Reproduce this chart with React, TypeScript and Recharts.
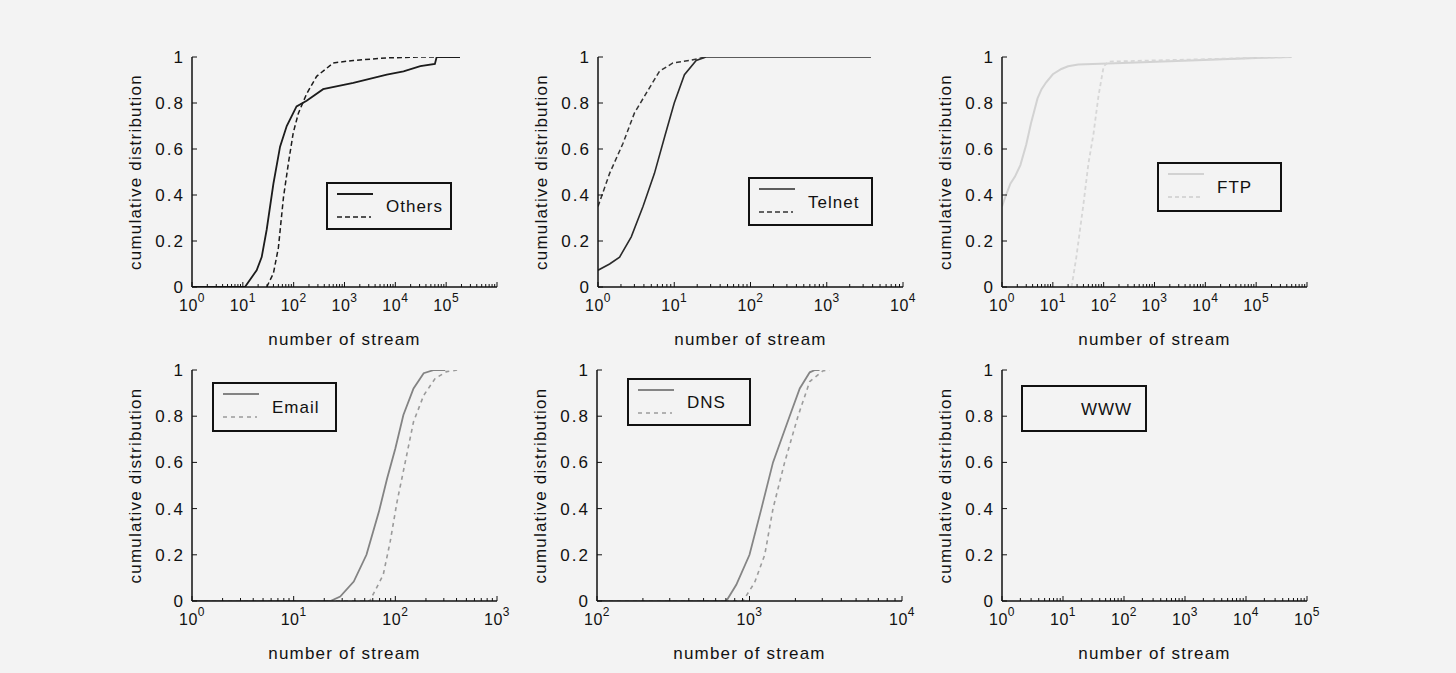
import React from 'react';
import { LineChart, Line, XAxis, YAxis, Legend } from 'recharts';

const BG = '#f3f3f3';
const FONT = '"Liberation Sans", Arial, Helvetica, sans-serif';

// ---------- data ----------
const yTicks = [0, 0.2, 0.4, 0.6, 0.8, 1];

const othersSolidX = [1, 8, 11, 18.7, 23.5, 29.5, 40, 54, 73, 114, 180, 380, 1490, 6800, 14500, 31000, 60000, 65000, 187000];
const othersSolidY = [0, 0, 0, 0.073, 0.13, 0.25, 0.45, 0.61, 0.7, 0.785, 0.81, 0.86, 0.887, 0.923, 0.938, 0.96, 0.97, 1.0, 1.0];
const othersDashX = [29.5, 40, 50, 63, 79, 98, 124, 180, 283, 600, 1490, 6800, 31000, 187000];
const othersDashY = [0, 0.06, 0.17, 0.39, 0.54, 0.67, 0.756, 0.84, 0.916, 0.974, 0.985, 0.996, 1.0, 1.0];

const telnetSolidX = [1, 1.42, 1.92, 2.73, 3.89, 5.5, 7.5, 10, 13.6, 19.4, 26, 3800];
const telnetSolidY = [0.073, 0.1, 0.13, 0.218, 0.35, 0.494, 0.654, 0.8, 0.923, 0.985, 1.0, 1.0];
const telnetDashX = [1, 1.42, 2.13, 3.0, 4.3, 6.4, 9.6, 15.8, 26];
const telnetDashY = [0.35, 0.494, 0.625, 0.756, 0.843, 0.938, 0.974, 0.985, 1.0];

const ftpSolidX = [1, 1.2, 1.47, 1.8, 2.3, 3.0, 3.7, 5.0, 6.0, 7.4, 10, 14.7, 20, 31.6, 233, 5000, 100000, 500000];
const ftpSolidY = [0.35, 0.4, 0.45, 0.48, 0.53, 0.62, 0.71, 0.82, 0.86, 0.89, 0.925, 0.948, 0.96, 0.967, 0.974, 0.985, 0.996, 1.0];
const ftpDashX = [23.4, 29, 40, 50, 63, 79, 100, 126, 1000, 500000];
const ftpDashY = [0, 0.13, 0.36, 0.535, 0.665, 0.83, 0.96, 0.98, 0.985, 1.0];

const emailSolidX = [1, 23, 28.7, 39, 52, 69, 83, 100, 120, 151, 190, 240, 310];
const emailSolidY = [0, 0, 0.019, 0.084, 0.2, 0.387, 0.53, 0.66, 0.805, 0.92, 0.986, 1, 1];
const emailDashX = [1, 56, 76, 89, 104, 125, 151, 190, 247, 320, 405];
const emailDashY = [0, 0, 0.113, 0.257, 0.43, 0.6, 0.776, 0.89, 0.964, 0.993, 1];

const dnsSolidX = [100, 705, 819, 1000, 1197, 1426, 1833, 2136, 2483, 2690, 2880];
const dnsSolidY = [0, 0, 0.07, 0.2, 0.4, 0.6, 0.8, 0.92, 0.99, 1, 1];
const dnsDashX = [100, 905, 1081, 1259, 1426, 1700, 2080, 2483, 3020, 3350];
const dnsDashY = [0, 0, 0.08, 0.2, 0.4, 0.6, 0.8, 0.95, 0.996, 1];

// WWW: no visible curves in the picture
const wwwSolidX: number[] = [];
const wwwSolidY: number[] = [];
const wwwDashX: number[] = [];
const wwwDashY: number[] = [];

// ---------- helpers ----------
type Series = { name: string; xs: number[]; ys: number[]; color: string; dash?: string; width: number };
type Panel = {
  key: string;
  label: string;
  plotLeft: number;
  plotTop: number;
  plotH: number;
  domain: [number, number];
  labeled: number[];
  series: Series[];
  legend: { left: number; top: number; w: number; h: number };
};

const zip = (xs: number[], ys: number[]) => xs.map((x, i) => ({ x, y: ys[i] }));

const logTicks = (lo: number, hi: number) => {
  const out: number[] = [];
  const e0 = Math.round(Math.log10(lo));
  const e1 = Math.round(Math.log10(hi));
  for (let e = e0; e < e1; e++) {
    for (let d = 1; d < 10; d++) out.push(d * Math.pow(10, e));
  }
  out.push(hi);
  return out;
};

const panels: Panel[] = [
  {
    key: 'others', label: 'Others', plotLeft: 192, plotTop: 57, plotH: 230, domain: [1, 1e6], labeled: [0, 1, 2, 3, 4, 5],
    series: [
      { name: 'Others solid', xs: othersSolidX, ys: othersSolidY, color: '#1c1c1c', width: 1.8 },
      { name: 'Others dashed', xs: othersDashX, ys: othersDashY, color: '#1c1c1c', dash: '5 3', width: 1.5 },
    ],
    legend: { left: 134, top: 125, w: 126, h: 48 },
  },
  {
    key: 'telnet', label: 'Telnet', plotLeft: 598, plotTop: 57, plotH: 230, domain: [1, 1e4], labeled: [0, 1, 2, 3, 4],
    series: [
      { name: 'Telnet solid', xs: telnetSolidX, ys: telnetSolidY, color: '#2a2a2a', width: 1.6 },
      { name: 'Telnet dashed', xs: telnetDashX, ys: telnetDashY, color: '#333333', dash: '5 3', width: 1.5 },
    ],
    legend: { left: 150, top: 120, w: 125, h: 49 },
  },
  {
    key: 'ftp', label: 'FTP', plotLeft: 1002, plotTop: 57, plotH: 230, domain: [1, 1e6], labeled: [0, 1, 2, 3, 4, 5],
    series: [
      { name: 'FTP solid', xs: ftpSolidX, ys: ftpSolidY, color: '#d2d2d2', width: 2 },
      { name: 'FTP dashed', xs: ftpDashX, ys: ftpDashY, color: '#d6d6d6', dash: '4 3', width: 1.8 },
    ],
    legend: { left: 155, top: 105, w: 125, h: 50 },
  },
  {
    key: 'email', label: 'Email', plotLeft: 192, plotTop: 370, plotH: 231, domain: [1, 1e3], labeled: [0, 1, 2, 3],
    series: [
      { name: 'Email solid', xs: emailSolidX, ys: emailSolidY, color: '#838383', width: 1.8 },
      { name: 'Email dashed', xs: emailDashX, ys: emailDashY, color: '#9a9a9a', dash: '4 4', width: 1.6 },
    ],
    legend: { left: 20, top: 12, w: 125, h: 50 },
  },
  {
    key: 'dns', label: 'DNS', plotLeft: 597, plotTop: 370, plotH: 231, domain: [1e2, 1e4], labeled: [2, 3, 4],
    series: [
      { name: 'DNS solid', xs: dnsSolidX, ys: dnsSolidY, color: '#858585', width: 1.8 },
      { name: 'DNS dashed', xs: dnsDashX, ys: dnsDashY, color: '#9c9c9c', dash: '4 4', width: 1.6 },
    ],
    legend: { left: 30, top: 8, w: 124, h: 48 },
  },
  {
    key: 'www', label: 'WWW', plotLeft: 1002, plotTop: 370, plotH: 231, domain: [1, 1e5], labeled: [0, 1, 2, 3, 4, 5],
    series: [
      { name: 'WWW solid', xs: wwwSolidX, ys: wwwSolidY, color: 'transparent', width: 1.8 },
      { name: 'WWW dashed', xs: wwwDashX, ys: wwwDashY, color: 'transparent', dash: '4 4', width: 1.6 },
    ],
    legend: { left: 19, top: 15, w: 126, h: 47 },
  },
];

const YAXIS_W = 80;
const MARGIN_TOP = 17;
const CHART_W = 420;
const CHART_H = 330;
const XAXIS_H = 60;

const XTick = (props: any) => {
  const { x, y, payload, labeled } = props;
  const v = payload.value as number;
  const lg = Math.log10(v);
  const e = Math.round(lg);
  const major = Math.abs(lg - e) < 1e-6;
  const show = major && labeled.includes(e);
  return (
    <g>
      <line x1={x} x2={x} y1={y} y2={y - (major ? 5 : 3)} stroke="#111" strokeWidth={1} />
      {show && (
        <text x={x} y={y + 24} textAnchor="middle" fontFamily={FONT} fontSize={16} letterSpacing={0.5} fill="#111">
          <tspan>10</tspan>
          <tspan dy={-9} fontSize={12}>{e}</tspan>
        </text>
      )}
    </g>
  );
};

const fmtY = (v: number) => (v === 0 ? '0' : v === 1 ? '1' : v.toFixed(1));

const YTick = (props: any) => {
  const { x, y, payload } = props;
  return (
    <g>
      <line x1={x} x2={x + 5} y1={y} y2={y} stroke="#111" strokeWidth={1} />
      <text x={x - 7} y={y + 6} textAnchor="end" fontFamily={FONT} fontSize={17} letterSpacing={2} fill="#111">
        {fmtY(payload.value)}
      </text>
    </g>
  );
};

const YLabel = (props: any) => {
  const vb = props.viewBox;
  if (!vb) return null;
  const x = vb.x + vb.width - 51;
  const y = vb.y + vb.height / 2;
  return (
    <text
      x={x}
      y={y}
      transform={`rotate(-90 ${x} ${y})`}
      textAnchor="middle"
      fontFamily={FONT}
      fontSize={17}
      letterSpacing={1.2}
      fill="#111"
    >
      cumulative distribution
    </text>
  );
};

const XLabel = (props: any) => {
  const vb = props.viewBox;
  if (!vb) return null;
  return (
    <text
      x={vb.x + vb.width / 2}
      y={vb.y + 58}
      textAnchor="middle"
      fontFamily={FONT}
      fontSize={17}
      letterSpacing={1.2}
      fill="#111"
    >
      number of stream
    </text>
  );
};

const LegendBox = ({ panel }: { panel: Panel }) => {
  const { w, h } = panel.legend;
  const s = panel.series;
  const iw = w - 4;
  const ih = h - 4;
  return (
    <div style={{ boxSizing: 'border-box', width: w, height: h, border: '2px solid #111', position: 'relative' }}>
      <svg width={iw} height={ih} style={{ position: 'absolute', left: 0, top: 0, display: 'block' }}>
        {s[0] && <line x1={9} x2={45} y1={10} y2={10} stroke={s[0].color} strokeWidth={s[0].width} />}
        {s[1] && (
          <line x1={9} x2={43} y1={33} y2={33} stroke={s[1].color} strokeWidth={s[1].width} strokeDasharray={s[1].dash} />
        )}
        <text x={58} y={ih / 2 + 6} fontFamily={FONT} fontSize={17} letterSpacing={1} fill="#111">
          {panel.label}
        </text>
      </svg>
    </div>
  );
};

const PanelChart = ({ panel }: { panel: Panel }) => {
  const bottom = CHART_H - MARGIN_TOP - panel.plotH - XAXIS_H;
  const right = CHART_W - YAXIS_W - 305;
  return (
    <div style={{ position: 'absolute', left: panel.plotLeft - YAXIS_W, top: panel.plotTop - MARGIN_TOP }}>
      <LineChart width={CHART_W} height={CHART_H} margin={{ top: MARGIN_TOP, right, bottom, left: 0 }}>
        <XAxis
          type="number"
          dataKey="x"
          scale="log"
          domain={panel.domain}
          allowDataOverflow
          ticks={logTicks(panel.domain[0], panel.domain[1])}
          interval={0}
          tickLine={false}
          tickSize={0}
          tickMargin={0}
          height={XAXIS_H}
          axisLine={{ stroke: '#111', strokeWidth: 1.5 }}
          tick={(p: any) => <XTick {...p} labeled={panel.labeled} />}
          label={(p: any) => <XLabel {...p} />}
        />
        <YAxis
          type="number"
          domain={[0, 1]}
          allowDataOverflow
          ticks={yTicks}
          interval={0}
          width={YAXIS_W}
          tickLine={false}
          tickSize={0}
          tickMargin={0}
          axisLine={{ stroke: '#111', strokeWidth: 1.5 }}
          tick={(p: any) => <YTick {...p} />}
          label={(p: any) => <YLabel {...p} />}
        />
        <Legend
          layout="horizontal"
          verticalAlign="middle"
          align="center"
          wrapperStyle={{
            left: YAXIS_W + panel.legend.left,
            top: MARGIN_TOP + panel.legend.top,
            width: panel.legend.w,
            height: panel.legend.h,
          }}
          content={() => <LegendBox panel={panel} />}
        />
        {panel.series.map((s) => (
          <Line
            key={s.name}
            name={s.name}
            data={zip(s.xs, s.ys)}
            dataKey="y"
            type="linear"
            stroke={s.color}
            strokeWidth={s.width}
            strokeDasharray={s.dash}
            dot={false}
            activeDot={false}
            isAnimationActive={false}
          />
        ))}
      </LineChart>
    </div>
  );
};

export default function App() {
  return (
    <div style={{ position: 'absolute', left: 0, top: 0, width: 1456, height: 673, background: BG, overflow: 'hidden' }}>
      {panels.map((p) => (
        <PanelChart key={p.key} panel={p} />
      ))}
    </div>
  );
}
